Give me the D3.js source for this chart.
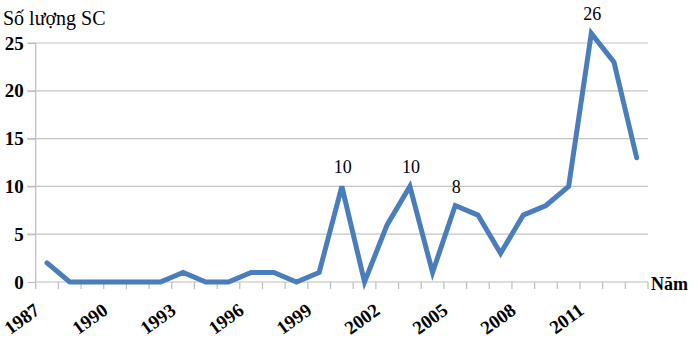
<!DOCTYPE html>
<html><head><meta charset="utf-8">
<script src="https://cdn.jsdelivr.net/npm/d3@7"></script>
<style>body{margin:0;background:#fff}svg{display:block}</style>
</head><body>
<svg id="c" width="700" height="344"></svg>
<script>
const years = [1987,1988,1989,1990,1991,1992,1993,1994,1995,1996,1997,1998,1999,2000,2001,2002,2003,2004,2005,2006,2007,2008,2009,2010,2011,2012,2013];
const counts = [2,0,0,0,0,0,1,0,0,1,1,0,1,10,0,6,10,1,8,7,3,7,8,10,26,23,13];
const yTicks = [0,5,10,15,20,25];
const xLabelYears = [1987,1990,1993,1996,1999,2002,2005,2008,2011];
const labeledYears = [2000,2003,2005,2011];
const yTitle = "Số lượng SC";
const xTitle = "Năm";

const FF = '"Liberation Serif"';
const svg = d3.select("#c");
const x = d3.scaleBand().domain(years).range([35.7, 648]).padding(0);
const y = d3.scaleLinear().domain([0,25]).range([282, 43]);
const cx = d => x(d) + x.bandwidth()/2;

// gridlines
svg.append("g").selectAll("line").data(yTicks.filter(d=>d>0)).join("line")
  .attr("x1", 27).attr("x2", 648).attr("y1", d=>y(d)).attr("y2", d=>y(d))
  .attr("stroke", "#c4c4c4").attr("stroke-width", 1.2);

// y axis
const ya = svg.append("g").attr("transform","translate(35.7,0)")
  .call(d3.axisLeft(y).tickValues(yTicks).tickSize(8).tickPadding(4));
ya.select(".domain").attr("stroke","#bdbdbd").attr("stroke-width",1.2).attr("d","M0,282V43");
ya.selectAll(".tick line").attr("stroke","#bdbdbd").attr("stroke-width",1.2);
ya.selectAll("text").style("font-family",FF).style("font-size","19px").style("font-weight","bold").attr("fill","#000");

// x axis
const xa = svg.append("g").attr("transform","translate(0,282)");
xa.append("line").attr("x1",35.7).attr("x2",648).attr("stroke","#bdbdbd").attr("stroke-width",1.2);
const bounds = years.map(d=>x(d)).concat([648]);
xa.selectAll("line.t").data(bounds).join("line").attr("class","t")
  .attr("x1",d=>d).attr("x2",d=>d).attr("y1",0).attr("y2",7)
  .attr("stroke","#bdbdbd").attr("stroke-width",1.2);
xa.selectAll("text.l").data(xLabelYears).join("text").attr("class","l")
  .attr("transform", d=>`translate(${cx(d)-6},${31}) rotate(-36)`)
  .attr("text-anchor","end")
  .style("font-family",FF).style("font-size","19px").style("font-weight","bold")
  .text(d=>d);

// line
svg.append("path").datum(years.map((yr,i)=>[yr,counts[i]]))
  .attr("fill","none").attr("stroke","#4a7dbb").attr("stroke-width",5)
  .attr("stroke-linejoin","miter").attr("stroke-linecap","round")
  .attr("d", d3.line().x(d=>cx(d[0])).y(d=>y(d[1])));

// data labels
svg.selectAll("text.dl").data(labeledYears).join("text").attr("class","dl")
  .attr("x", d=>cx(d)+1).attr("y", d=>y(counts[years.indexOf(d)])-13)
  .attr("text-anchor","middle").style("font-family",FF).style("font-size","18px")
  .text(d=>counts[years.indexOf(d)]);

// titles
svg.append("text").attr("x",3).attr("y",25).style("font-family",FF).style("font-size","20px").text(yTitle);
svg.append("text").attr("x",651).attr("y",290).style("font-family",FF).style("font-size","18px").style("font-weight","bold").text(xTitle);
</script>
</body></html>
